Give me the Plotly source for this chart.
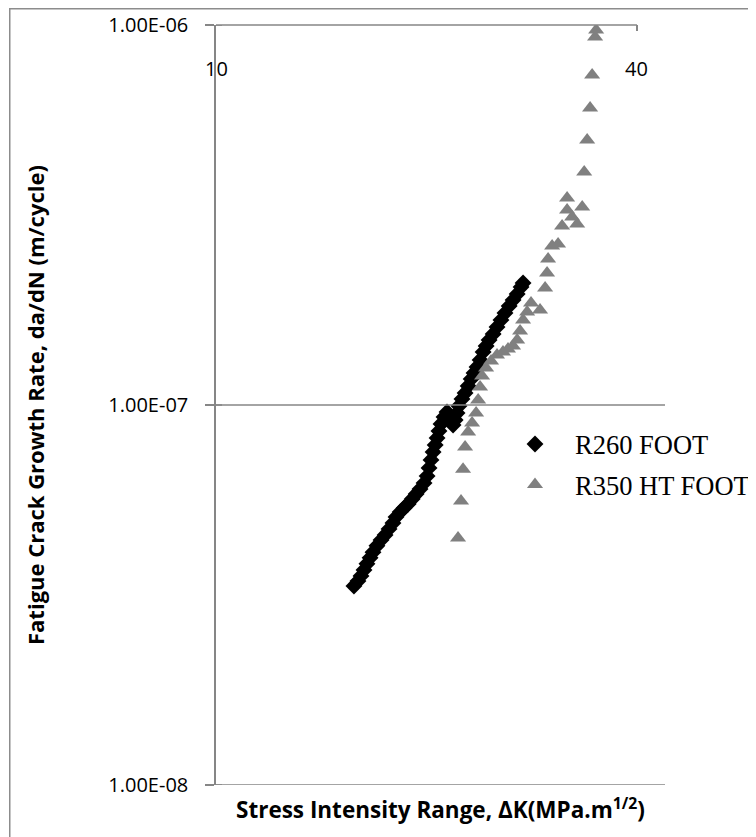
import math
import plotly.graph_objects as go

# ---- data ----
r260_dk = [15.75, 15.96, 16.12, 16.28, 16.44, 16.61, 16.77, 16.99, 17.22, 17.45,
           17.68, 17.91, 18.09, 18.34, 18.58, 18.83, 19.08, 19.33, 19.58, 19.84,
           20.04, 20.17, 20.30, 20.44, 20.58, 20.71, 20.84, 20.98, 21.19, 21.40,
           21.62, 21.83, 21.98, 22.12, 22.26, 22.48, 22.71, 22.94, 23.17, 23.39,
           23.62, 23.86, 24.10, 24.34, 24.58, 24.91, 25.23, 25.56, 25.90, 26.26,
           26.60, 26.96, 27.31, 27.49]
r260_rate = [3.34e-8, 3.44e-8, 3.55e-8, 3.68e-8, 3.82e-8, 3.96e-8, 4.10e-8, 4.26e-8, 4.41e-8, 4.55e-8,
             4.72e-8, 4.89e-8, 5.07e-8, 5.23e-8, 5.36e-8, 5.49e-8, 5.66e-8, 5.83e-8, 6.01e-8, 6.23e-8,
             6.50e-8, 6.83e-8, 7.17e-8, 7.52e-8, 7.85e-8, 8.19e-8, 8.54e-8, 8.91e-8, 9.30e-8, 9.59e-8,
             9.24e-8, 8.86e-8, 9.13e-8, 9.53e-8, 9.94e-8, 1.037e-7, 1.075e-7, 1.122e-7, 1.171e-7, 1.214e-7,
             1.259e-7, 1.313e-7, 1.379e-7, 1.430e-7, 1.483e-7, 1.538e-7, 1.604e-7, 1.674e-7, 1.746e-7, 1.822e-7,
             1.889e-7, 1.959e-7, 2.044e-7, 2.095e-7]

r350_dk = [22.19, 22.41, 22.56, 22.71, 22.94, 23.24, 23.55, 23.71, 23.86, 24.02,
           24.34, 24.74, 25.23, 25.73, 26.16, 26.60, 26.96, 27.22, 27.49, 27.86,
           28.22, 29.07, 29.56, 29.75, 29.85, 30.25, 30.85, 31.26, 31.78, 31.78,
           32.31, 32.85, 33.40, 33.62, 33.95, 34.28, 34.51, 34.85, 34.97]
r350_rate = [4.47e-8, 5.59e-8, 6.78e-8, 7.75e-8, 8.49e-8, 8.97e-8, 9.53e-8, 1.031e-7, 1.115e-7, 1.192e-7,
             1.251e-7, 1.305e-7, 1.354e-7, 1.379e-7, 1.404e-7, 1.430e-7, 1.483e-7, 1.566e-7, 1.674e-7, 1.757e-7,
             1.855e-7, 1.778e-7, 2.032e-7, 2.225e-7, 2.422e-7, 2.620e-7, 2.652e-7, 2.958e-7, 3.261e-7, 3.505e-7,
             3.125e-7, 2.994e-7, 3.319e-7, 4.104e-7, 4.983e-7, 6.047e-7, 7.387e-7, 9.299e-7, 9.70e-7]

series_names = ["R260 FOOT", "R350 HT FOOT"]
x_ticks = [10, 40]
x_ticktext = ["10", "40"]
x_max = 43.87
y_ticks = [1e-8, 1e-7, 1e-6]
y_ticktext = ["1.00E-08", "1.00E-07", "1.00E-06"]
x_title = "Stress Intensity Range, ΔK(MPa.m<sup>1/2</sup>)"
y_title = "Fatigue Crack Growth Rate, da/dN (m/cycle)"

AXIS_GRAY = "#868686"
LABEL_FONT = "'Open Sans', Lato, sans-serif"

# plot area geometry (figure pixels)
L, T, PW, PH = 208, 17, 449, 760
W, H = 756, 837

fig = go.Figure()
fig.add_trace(go.Scatter(
    x=r260_dk, y=r260_rate, mode="markers", name=series_names[0],
    legendgroup="a",
    marker=dict(symbol="diamond", size=13, color="#000000", line=dict(width=0)),
))
fig.add_trace(go.Scatter(
    x=r350_dk, y=r350_rate, mode="markers", name=series_names[1],
    legendgroup="b",
    marker=dict(symbol="triangle-up", size=14, color="#808080", line=dict(width=0)),
))

fig.update_layout(
    width=W, height=H,
    margin=dict(l=L, r=W - L - PW, t=T, b=H - T - PH, autoexpand=False),
    paper_bgcolor="white", plot_bgcolor="white",
    showlegend=True,
    legend=dict(
        x=(489 + 258 - L) / PW, y=0.48, xanchor="right", yanchor="top",
        font=dict(family="'Liberation Serif', 'Times New Roman', serif", size=26.5, color="black"),
        bgcolor="rgba(0,0,0,0)", borderwidth=0,
        itemwidth=70, tracegroupgap=3,
    ),
    xaxis=dict(
        type="log", range=[math.log10(x_ticks[0]), math.log10(x_max)],
        side="top", tickmode="array", tickvals=x_ticks, ticktext=x_ticktext,
        ticks="inside", ticklen=6, tickcolor=AXIS_GRAY, tickwidth=1.5,
        showticklabels=False,
        showline=False, showgrid=False, zeroline=False,
    ),
    yaxis=dict(
        type="log", range=[-8.00005, -5.99995],
        tickmode="array", tickvals=y_ticks, ticktext=y_ticktext,
        ticks="outside", ticklen=9, tickcolor=AXIS_GRAY, tickwidth=1.5,
        ticklabelstandoff=13,
        showline=True, linecolor=AXIS_GRAY, linewidth=1.5,
        showgrid=False, zeroline=False,
        tickfont=dict(family=LABEL_FONT, size=20, color="black"),
    ),
)

shapes = []
# horizontal gridlines at the lower two decades
for yv in y_ticks[:2]:
    shapes.append(dict(type="line", xref="paper", yref="y", x0=0, x1=1, y0=yv, y1=yv,
                       line=dict(color=AXIS_GRAY, width=1.5)))
# inner half of the crossing y ticks
for yv in y_ticks:
    shapes.append(dict(type="line", xref="paper", yref="y", x0=0, x1=6 / PW, y0=yv, y1=yv,
                       line=dict(color=AXIS_GRAY, width=1.5)))
# top horizontal axis line spanning 10..40
shapes.append(dict(type="line", xref="x", yref="paper", x0=x_ticks[0], x1=x_ticks[-1], y0=1, y1=1,
                   line=dict(color=AXIS_GRAY, width=1.5)))
# outer chart border
shapes.append(dict(type="rect", xref="paper", yref="paper",
                   x0=(1.75 - L) / PW, x1=2, y0=-1, y1=(T + PH - 0.75) / PH,
                   line=dict(color="#8c8c8c", width=1.5), fillcolor="rgba(0,0,0,0)", layer="below"))
fig.update_layout(shapes=shapes)

# x tick labels sit just below the top axis line
for xv, xt in zip(x_ticks, x_ticktext):
    fig.add_annotation(text=xt, xref="x", yref="paper", x=math.log10(xv), y=1, yshift=-43,
                       xanchor="center", yanchor="middle", showarrow=False,
                       font=dict(family=LABEL_FONT, size=20, color="black"))

fig.add_annotation(text="<b>" + x_title + "</b>", xref="paper", yref="paper",
                   x=0.5, y=0, yshift=-23, xanchor="center", yanchor="middle", showarrow=False,
                   font=dict(family=LABEL_FONT, size=22.5, color="black"))
fig.add_annotation(text="<b>" + y_title + "</b>", xref="paper", yref="paper",
                   x=(27 - L) / PW, y=0.5, xanchor="center", yanchor="middle", showarrow=False,
                   textangle=-90, font=dict(family=LABEL_FONT, size=22, color="black"))

fig.write_html("out.html")
